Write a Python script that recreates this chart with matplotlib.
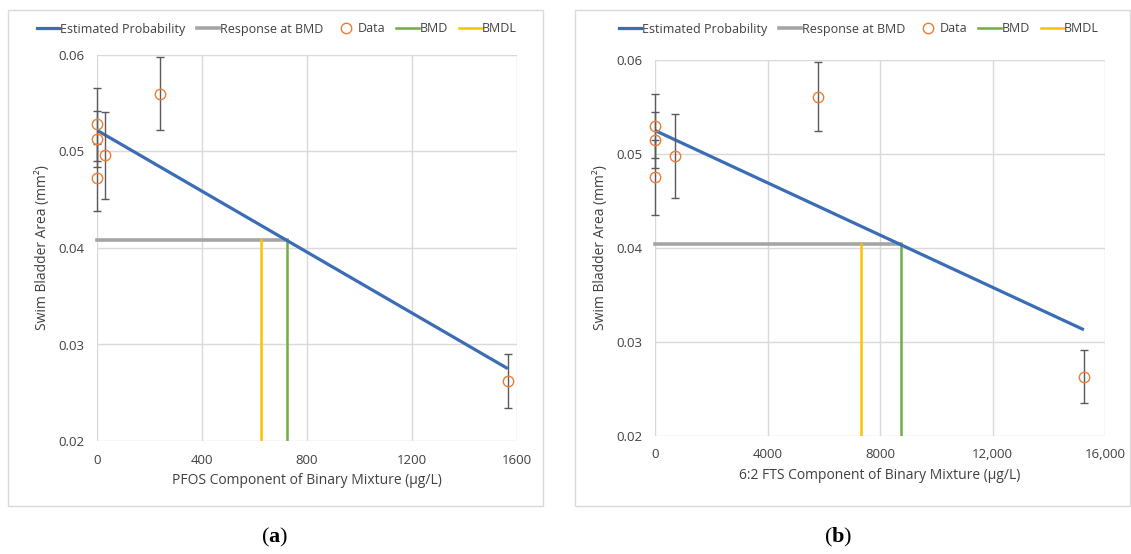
import matplotlib
matplotlib.use("Agg")
import matplotlib.pyplot as plt
from matplotlib.lines import Line2D
from matplotlib.patches import Rectangle

plt.rcParams['font.family'] = ['Open Sans', 'DejaVu Sans']
plt.rcParams['mathtext.fontset'] = 'custom'
plt.rcParams['mathtext.bf'] = 'Liberation Serif:bold'
plt.rcParams['mathtext.rm'] = 'Liberation Serif'

# panel (a): PFOS component
a_x = [0, 0, 0, 30, 240, 1565]
a_y = [0.0528, 0.0513, 0.0473, 0.0496, 0.0560, 0.0262]
a_err = [0.0038, 0.0029, 0.0035, 0.0045, 0.0038, 0.0028]
a_fit_x = [0, 1565]
a_fit_y = [0.0522, 0.0275]
a_bmd = 725
a_bmdl = 625
a_bmr = 0.0408
a_xticks = [0, 400, 800, 1200, 1600]
a_xlabels = ['0', '400', '800', '1200', '1600']

# panel (b): 6:2 FTS component
b_x = [0, 0, 0, 711, 5800, 15250]
b_y = [0.0530, 0.0515, 0.0475, 0.0498, 0.0561, 0.0263]
b_err = [0.0034, 0.0030, 0.0040, 0.0045, 0.0037, 0.0028]
b_fit_x = [0, 15250]
b_fit_y = [0.0525, 0.0313]
b_bmd = 8735
b_bmdl = 7324
b_bmr = 0.0404
b_xticks = [0, 4000, 8000, 12000, 16000]
b_xlabels = ['0', '4000', '8000', '12,000', '16,000']

yticks = [0.02, 0.03, 0.04, 0.05, 0.06]
ylabels = ['0.02', '0.03', '0.04', '0.05', '0.06']

BLUE = '#3A6DB5'
GRAY = '#A5A5A5'
ORANGE = '#ED7D31'
GREEN = '#70AD47'
YELLOW = '#FFC000'
TXT = '#404040'
GRID = '#D9D9D9'

W, H = 1131, 554
fig = plt.figure(figsize=(W / 100, H / 100), dpi=100)


def px(l, t, r, b):
    return [l / W, 1 - b / H, (r - l) / W, (b - t) / H]


def panel(rect, frame, x, y, err, fx, fy, bmd, bmdl, bmr, xt, xl, xmax, xlabel, tag, tagx, legx):
    fig.add_artist(Rectangle((frame[0] / W, 1 - frame[3] / H), (frame[2] - frame[0]) / W,
                             (frame[3] - frame[1]) / H, transform=fig.transFigure,
                             fill=False, edgecolor=GRID, lw=1))
    ax = fig.add_axes(px(*rect))
    ax.set_xlim(0, xmax)
    ax.set_ylim(0.02, 0.06)
    ax.set_xticks(xt)
    ax.set_xticklabels(xl)
    ax.set_yticks(yticks)
    ax.set_yticklabels(ylabels)
    ax.tick_params(length=0, labelsize=9.5, colors=TXT, pad=9)
    for s in ax.spines.values():
        s.set_visible(False)
    ax.grid(True, color=GRID, lw=1)
    ax.set_axisbelow(True)

    ax.plot([0, bmd], [bmr, bmr], color=GRAY, lw=2.6, zorder=2, clip_on=False)
    ax.plot([bmd, bmd], [0.02, bmr], color=GREEN, lw=1.8, zorder=2)
    ax.plot([bmdl, bmdl], [0.02, bmr], color=YELLOW, lw=1.8, zorder=2)
    ax.plot(fx, fy, color=BLUE, lw=2.3, zorder=3, solid_capstyle='butt')
    ax.errorbar(x, y, yerr=err, fmt='none', ecolor='#595959', elinewidth=1,
                capsize=3, capthick=1, zorder=4, clip_on=False)
    ax.plot(x, y, 'o', mfc='none', mec=ORANGE, ms=7.5, mew=1, zorder=5, clip_on=False)

    ax.set_xlabel(xlabel, fontsize=10, color=TXT, labelpad=5)
    ax.set_ylabel('Swim Bladder Area (mm²)', fontsize=10, color=TXT, labelpad=6)

    handles = [Line2D([], [], color=BLUE, lw=2.3),
               Line2D([], [], color=GRAY, lw=2.6),
               Line2D([], [], ls='none', marker='o', mfc='none', mec=ORANGE, ms=7.5, mew=1),
               Line2D([], [], color=GREEN, lw=1.8),
               Line2D([], [], color=YELLOW, lw=1.8)]
    names = ['Estimated Probability', 'Response at BMD', 'Data', 'BMD', 'BMDL']
    fig.legend(handles, names, loc='center', bbox_to_anchor=(legx / W, 1 - 29 / H),
               ncol=5, frameon=False, fontsize=9, handlelength=1.8,
               handletextpad=0.05, columnspacing=0.9, labelcolor=TXT)
    fig.text(tagx / W, 1 - 537 / H, r'($\mathbf{' + tag + '}$)', ha='center', va='center',
             fontsize=16, family='Liberation Serif')
    return ax


panel((97, 55, 517, 441), (8, 10, 543, 506), a_x, a_y, a_err, a_fit_x, a_fit_y,
      a_bmd, a_bmdl, a_bmr, a_xticks, a_xlabels, 1600,
      'PFOS Component of Binary Mixture (μg/L)', 'a', 275, 277)
panel((655, 60, 1105, 436), (575, 10, 1130, 506), b_x, b_y, b_err, b_fit_x, b_fit_y,
      b_bmd, b_bmdl, b_bmr, b_xticks, b_xlabels, 16000,
      '6:2 FTS Component of Binary Mixture (μg/L)', 'b', 838, 859)

fig.savefig('out.png', dpi=100)
